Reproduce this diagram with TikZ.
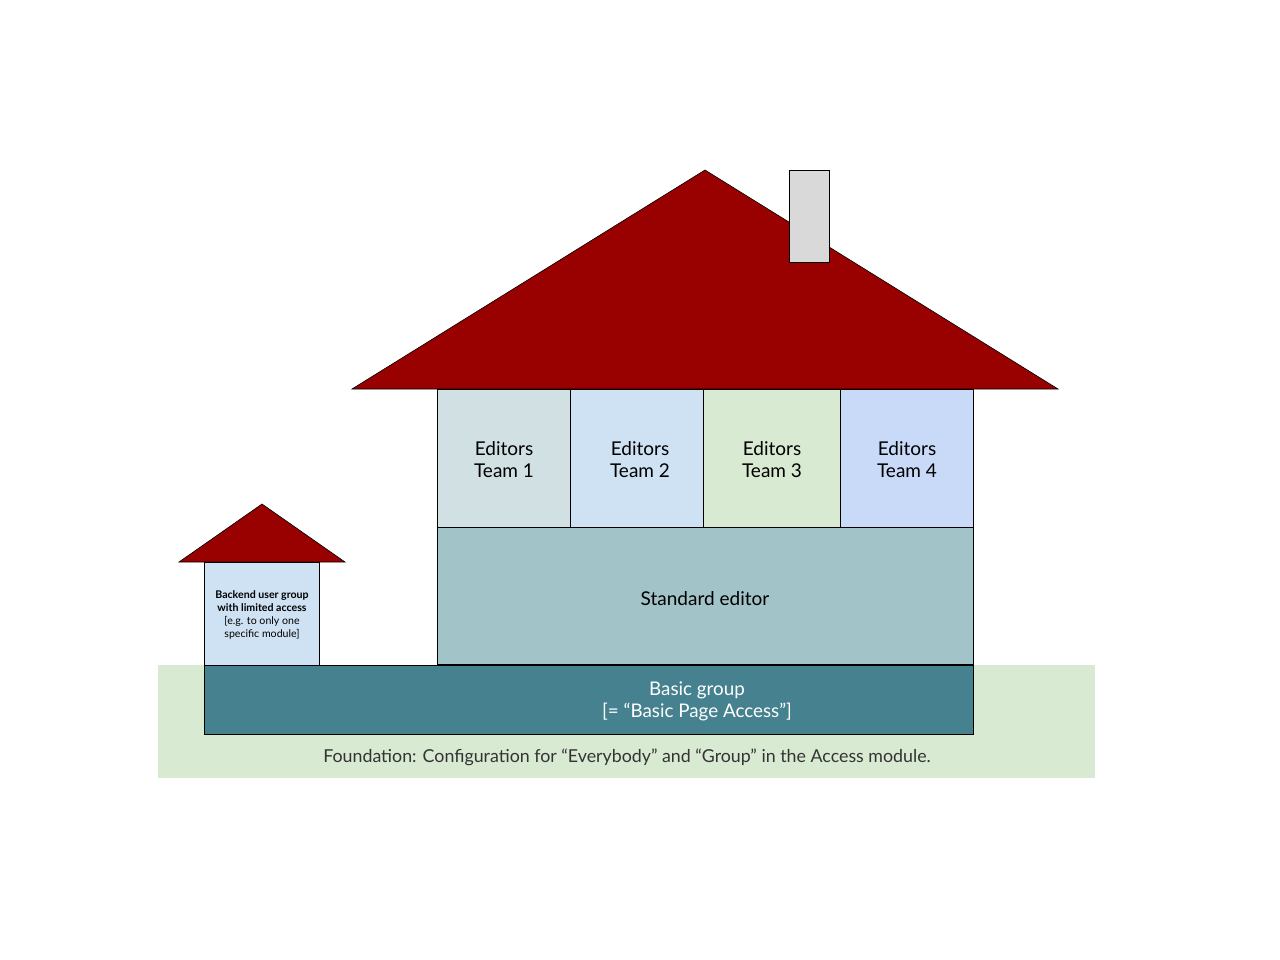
\documentclass[tikz,border=0pt]{standalone}
\usepackage{fontspec}
\setmainfont{Lato}
\usetikzlibrary{positioning}
\definecolor{RoofRed}{HTML}{990000}
\definecolor{GroundGreen}{HTML}{D9EAD3}
\definecolor{BasicTeal}{HTML}{45818E}
\definecolor{StandardTeal}{HTML}{A2C4C9}
\definecolor{TeamA}{HTML}{D0E0E3}
\definecolor{TeamB}{HTML}{CFE2F3}
\definecolor{TeamC}{HTML}{D9EAD3}
\definecolor{TeamD}{HTML}{C9DAF8}
\definecolor{ChimneyGrey}{HTML}{D9D9D9}
\tikzset{
  room/.style={draw=black,line width=0.8pt,inner sep=0pt,align=center,font=\fontsize{19}{22}\selectfont},
  roof/.style={draw=black,line width=0.6pt,fill=RoofRed}
}
\begin{document}
\begin{tikzpicture}[x=1pt,y=-1pt]
          \useasboundingbox (0,0) rectangle (1280,960);
          \node[fill=GroundGreen,minimum width=937pt,minimum height=113pt,inner sep=0pt] (ground) at (626.5,721.5) {};
          \node[font=\fontsize{17.8}{20}\selectfont,text=black!80] (groundtext) at (627,757) {Foundation: Configuration for “Everybody” and “Group” in the Access module.};
          \node[room,fill=BasicTeal,text=white,minimum width=769pt,minimum height=69pt] (basic) at (588.5,699.5) {};
          \node[text=white,align=center,font=\fontsize{18.8}{22}\selectfont] (basictext) at (697,701.5) {Basic group\\{}[= “Basic Page Access”]};
          \node[room,fill=StandardTeal,minimum width=536pt,minimum height=137pt] (standard) at (705,596) {};
          \node[font=\fontsize{19}{22}\selectfont] (standardtext) at (705,599) {Standard editor};
          \node[room,fill=TeamA,minimum width=133pt,minimum height=138pt] (team1) at (503.5,458) {};
          \node[room,fill=TeamB,minimum width=133pt,minimum height=138pt] (team2) at (636.5,458) {};
          \node[room,fill=TeamC,minimum width=137pt,minimum height=138pt] (team3) at (771.5,458) {};
          \node[room,fill=TeamD,minimum width=133pt,minimum height=138pt] (team4) at (906.5,458) {};
          \node[align=center,font=\fontsize{19}{22}\selectfont] at (504,460) {Editors\\Team 1};
          \node[align=center,font=\fontsize{19}{22}\selectfont] at (640,460) {Editors\\Team 2};
          \node[align=center,font=\fontsize{19}{22}\selectfont] at (772,460) {Editors\\Team 3};
          \node[align=center,font=\fontsize{19}{22}\selectfont] at (907,460) {Editors\\Team 4};
          % roof and chimney
          \draw[roof] (352,389) -- (705,170) -- (1058,389) -- cycle;
          \node[draw=black,line width=0.8pt,fill=ChimneyGrey,minimum width=40pt,minimum height=92pt,inner sep=0pt] (chimney) at (809,216) {};
          % small house
          \node[room,fill=TeamB,minimum width=115pt,minimum height=103pt] (backend) at (261.5,613.5) {};
          \node[align=center,font=\fontsize{10.6}{13}\selectfont] (backendtext) at (262,615) {\textbf{Backend user group}\\\textbf{with limited access}\\{}[e.g. to only one\\specific module]};
          \draw[roof] (179,562) -- (262,504) -- (345,562) -- cycle;
        \end{tikzpicture}
\end{document}
